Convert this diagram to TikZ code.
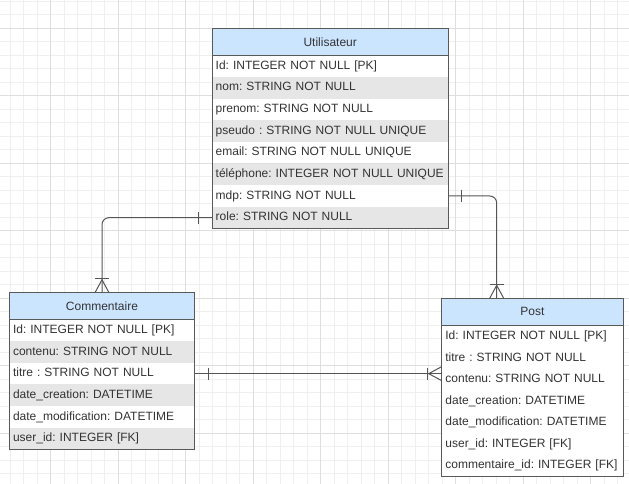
\documentclass[tikz,border=0pt]{standalone}
\usepackage{fontspec}
\setmainfont{Liberation Sans}
\usetikzlibrary{calc}
\definecolor{gridminor}{HTML}{EFEFEF}
\definecolor{gridmajor}{HTML}{DEDEDE}
\definecolor{hdr}{HTML}{CCE5FF}
\definecolor{rowgray}{HTML}{E6E6E6}
\definecolor{bordr}{HTML}{595959}
\definecolor{txt}{HTML}{333333}
\definecolor{conn}{HTML}{555555}
\tikzset{
  fnt/.style={font=\fontsize{12}{14}\selectfont\frenchspacing},
  hdrbox/.style={fnt, fill=hdr, anchor=north west, inner sep=0pt, minimum height=26.7pt, text=txt},
  rowbox/.style={fnt, anchor=north west, inner xsep=3.5pt, inner ysep=0pt, minimum height=21.65pt, align=left, text=txt, text height=9pt, text depth=2.5pt},
  frame/.style={draw=bordr, line width=1pt},
  connline/.style={draw=conn, line width=1pt},
}
\begin{document}
\begin{tikzpicture}[x=1pt,y=-1pt]
\useasboundingbox (0,0) rectangle (629,484);
\fill[white] (0,0) rectangle (629,484);
% grid
\foreach \k in {0,...,46} {
  \pgfmathsetmacro\xx{10.2+13.5*\k}
  \draw[gridminor, line width=1pt] (\xx,0) -- (\xx,484);
}
\foreach \k in {0,...,35} {
  \pgfmathsetmacro\yy{1.3+13.5*\k}
  \draw[gridminor, line width=1pt] (0,\yy) -- (629,\yy);
}
\foreach \xx in {50.7,118.2,185.7,253.2,320.7,388.2,455.7,523.2,590.7}
  \draw[gridmajor, line width=1pt] (\xx,0) -- (\xx,484);
\foreach \yy in {28.3,95.8,163.3,230.8,298.3,365.8,433.3}
  \draw[gridmajor, line width=1pt] (0,\yy) -- (629,\yy);

% ---------- Utilisateur ----------
\node[hdrbox, minimum width=236pt] (uh) at (212,28.3) {Utilisateur};
\foreach \t [count=\i] in {Id: INTEGER NOT NULL [PK],nom: STRING NOT NULL,prenom: STRING NOT NULL,pseudo : STRING NOT NULL UNIQUE,email: STRING NOT NULL UNIQUE,téléphone: INTEGER NOT NULL UNIQUE,mdp: STRING NOT NULL,role: STRING NOT NULL} {
  \pgfmathsetmacro\yy{55+21.66*(\i-1)}
  \pgfmathtruncatemacro\odd{mod(\i,2)}
  \ifnum\odd=0 \def\rf{rowgray}\else \def\rf{white}\fi
  \node[rowbox, fill=\rf, text width=229pt] (u\i) at (212,\yy) {\mbox{\t}};
}
\draw[frame] (uh.north west) rectangle (u8.south east);
\draw[frame] (uh.south west) -- (uh.south east);

% ---------- Commentaire ----------
\node[hdrbox, minimum width=185pt] (ch) at (9.3,292.7) {Commentaire};
\foreach \t [count=\i] in {Id: INTEGER NOT NULL [PK],contenu: STRING NOT NULL,titre : STRING NOT NULL,date\_creation: DATETIME,date\_modification: DATETIME,user\_id: INTEGER [FK]} {
  \pgfmathsetmacro\yy{319.3+21.66*(\i-1)}
  \pgfmathtruncatemacro\odd{mod(\i,2)}
  \ifnum\odd=0 \def\rf{rowgray}\else \def\rf{white}\fi
  \node[rowbox, fill=\rf, text width=178pt] (c\i) at (9.3,\yy) {\mbox{\t}};
}
\draw[frame] (ch.north west) rectangle (c6.south east);
\draw[frame] (ch.south west) -- (ch.south east);

% ---------- Post ----------
\node[hdrbox, minimum width=181pt] (ph) at (441.7,298.3) {Post};
\foreach \t [count=\i] in {Id: INTEGER NOT NULL [PK],titre : STRING NOT NULL,contenu: STRING NOT NULL,date\_creation: DATETIME,date\_modification: DATETIME,user\_id: INTEGER [FK],commentaire\_id: INTEGER [FK]} {
  \pgfmathsetmacro\yy{325.3+21.53*(\i-1)}
  \node[rowbox, fill=white, text width=174pt] (p\i) at (441.7,\yy) {\mbox{\t}};
}
\draw[frame] (ph.north west) rectangle (p7.south east);
\draw[frame] (ph.south west) -- (ph.south east);

% ---------- connectors ----------
\coordinate (ptop) at ($(ph.north west)+(55,0)$);
\coordinate (pin) at (c3.east -| ph.west);

% Utilisateur (role) -> Commentaire
\draw[connline, rounded corners=7pt] (u8.west) -| (ch.north);
\draw[connline] ($(u8.west)+(-14,-6)$) -- ($(u8.west)+(-14,6)$);
\draw[connline] ($(ch.north)+(-7,-14)$) -- ($(ch.north)+(7,-14)$);
\draw[connline] ($(ch.north)+(-7,0)$) -- ($(ch.north)+(0,-13)$) -- ($(ch.north)+(7,0)$);

% Utilisateur (mdp) -> Post
\draw[connline, rounded corners=7pt] (u7.east) -| (ptop);
\draw[connline] ($(u7.east)+(13,-6)$) -- ($(u7.east)+(13,6)$);
\draw[connline] ($(ptop)+(-7,-14)$) -- ($(ptop)+(7,-14)$);
\draw[connline] ($(ptop)+(-7,0)$) -- ($(ptop)+(0,-13)$) -- ($(ptop)+(7,0)$);

% Commentaire (titre) -> Post
\draw[connline] (c3.east) -- (pin);
\draw[connline] ($(c3.east)+(14,-6)$) -- ($(c3.east)+(14,6)$);
\draw[connline] ($(pin)+(-14,-6)$) -- ($(pin)+(-14,6)$);
\draw[connline] ($(pin)+(0,-7)$) -- ($(pin)+(-13,0)$) -- ($(pin)+(0,7)$);
\end{tikzpicture}
\end{document}
